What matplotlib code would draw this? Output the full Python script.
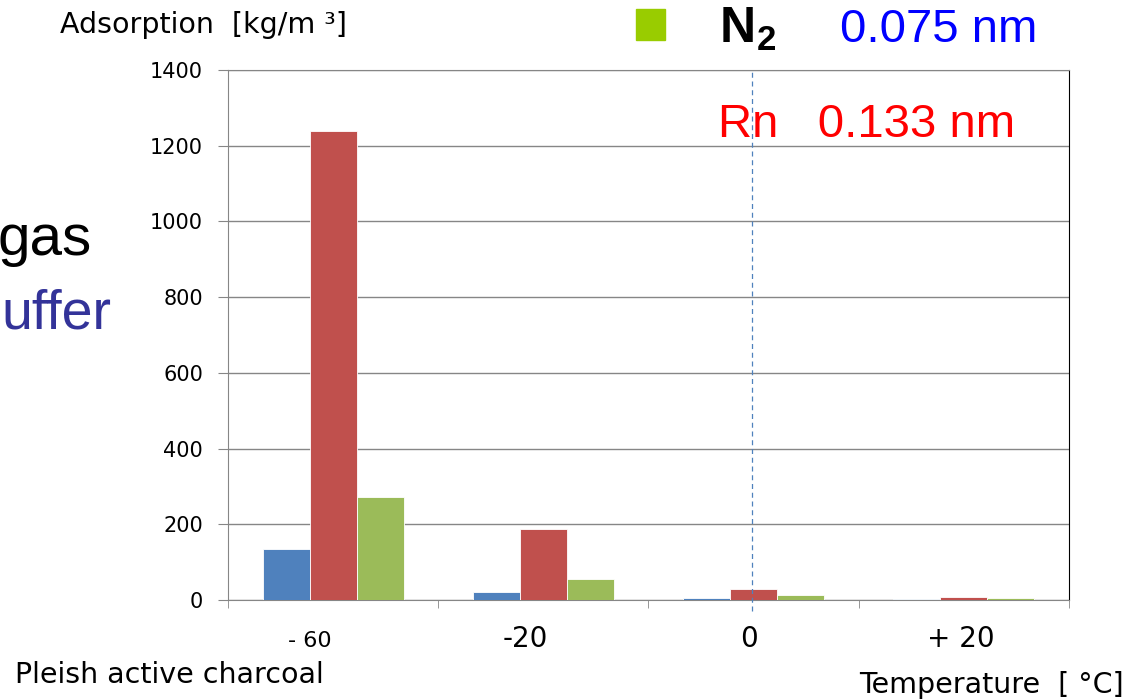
import numpy as np
import matplotlib
matplotlib.use("Agg")
import matplotlib.pyplot as plt
from matplotlib.patches import Rectangle

# 数据
temps = ["- 60", "-20", "0", "+ 20"]
yticks = [0, 200, 400, 600, 800, 1000, 1200, 1400]
series_blue = [135, 20, 5, 4]
series_red = [1238, 187, 30, 9]
series_green = [271, 55, 12, 5]

labfont = "DejaVu Sans"
tahoma = "Liberation Sans"

fig = plt.figure(figsize=(11.36, 6.99), dpi=100)
ax = fig.add_axes([0.2007, 0.1416, 0.7403, 0.7583])

x = np.arange(len(temps))
w = 0.2235
ax.bar(x - w, series_blue, w, color="#4F81BD", edgecolor="white", linewidth=0.6, zorder=3)
ax.bar(x, series_red, w, color="#C0504D", edgecolor="white", linewidth=0.6, zorder=3)
ax.bar(x + w, series_green, w, color="#9BBB59", edgecolor="white", linewidth=0.6, zorder=3)

ax.set_xlim(-0.5, len(temps) - 0.5)
ax.set_ylim(0, 1400)

# 网格和边框
ax.set_yticks(yticks)
ax.yaxis.grid(True, color="#868686", linewidth=1, zorder=0)
for s in ["left", "bottom", "top"]:
    ax.spines[s].set_color("#868686")
ax.spines["right"].set_color("black")
ax.tick_params(axis="y", length=7, color="#868686", pad=11)
for lab in ax.get_yticklabels():
    lab.set_fontfamily(labfont)
    lab.set_fontsize(15)

# 类别标签（原图中略微偏左）
ax.set_xticks(x + np.array([-0.11, -0.085, -0.022, -0.015]))
ax.set_xticklabels(temps, fontfamily=labfont, fontsize=20)
ax.get_xticklabels()[0].set_fontsize(16)
for lab in ax.get_xticklabels():
    lab.set_verticalalignment("baseline")
ax.set_xticks(np.arange(len(temps) + 1) - 0.5, minor=True)
ax.tick_params(axis="x", which="major", length=0, pad=34)
ax.tick_params(axis="x", which="minor", length=6, color="#868686")

# 0 度处的虚线
ax.plot([1.99, 1.99], [-0.02, 1], transform=ax.get_xaxis_transform(), color="#4F81BD",
        linestyle=(0, (4, 3)), linewidth=0.9, clip_on=False, zorder=4)

# 文字
fig.text(60 / 1136, 1 - 33 / 699, "Adsorption  [kg/m \u00b3]", fontfamily=labfont, fontsize=20.5,
         va="baseline")
fig.text(15 / 1136, 1 - 683 / 699, "Pleish active charcoal", fontfamily=labfont, fontsize=20.5,
         va="baseline")
fig.text(859 / 1136, 1 - 693 / 699, "Temperature  [ \u00b0C]", fontfamily=labfont, fontsize=20.5,
         va="baseline")

fig.add_artist(Rectangle((636 / 1136, 1 - 40 / 699), 29 / 1136, 31 / 699,
                         transform=fig.transFigure, color="#99CC00"))
fig.text(720 / 1136, 1 - 42 / 699, "N", fontfamily=tahoma, fontsize=36, weight="bold",
         va="baseline")
fig.text(757 / 1136, 1 - 50 / 699, "2", fontfamily=tahoma, fontsize=25, weight="bold",
         va="baseline")
fig.text(840 / 1136, 1 - 42 / 699, "0.075 nm", fontfamily=tahoma, fontsize=34, color="#0000FF",
         va="baseline")
fig.text(718 / 1136, 1 - 137 / 699, "Rn   0.133 nm", fontfamily=tahoma, fontsize=34,
         color="#FF0000", va="baseline")

fig.text(92 / 1136, 1 - 255 / 699, "gas", fontfamily=tahoma, fontsize=42, ha="right",
         va="baseline")
fig.text(1 / 1136, 1 - 328 / 699, "uffer", fontfamily=tahoma, fontsize=40, color="#333399",
         ha="left", va="baseline")

fig.savefig("out.png", dpi=100)
plt.close(fig)
